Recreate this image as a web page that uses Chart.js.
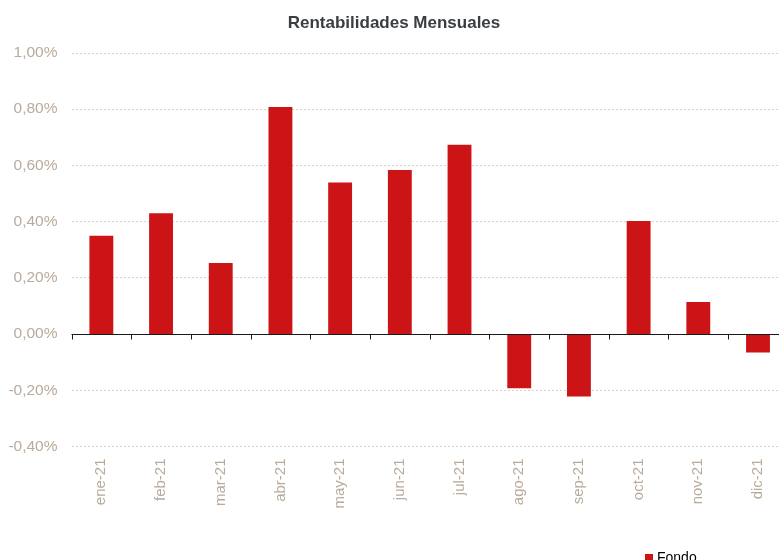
<!DOCTYPE html>
<html>
<head>
<meta charset="utf-8">
<script src="https://cdn.jsdelivr.net/npm/chart.js@4.4.1/dist/chart.umd.min.js"></script>
<style>
  html, body { margin: 0; padding: 0; background: #fff; overflow: hidden; }
  #wrap { position: relative; width: 779px; height: 560px; overflow: hidden; }
  #legend { position: absolute; left: 645px; top: 550px; font: 14px "Liberation Sans", Arial, sans-serif; color: #000; line-height: 14px; white-space: nowrap; }
  #legend span.box { display: inline-block; width: 8px; height: 8px; background: #cc1417; margin-right: 4px; vertical-align: 0px; }
</style>
</head>
<body>
<div id="wrap">
  <canvas id="barChart" width="788" height="575"></canvas>
  <div id="legend"><span class="box"></span>Fondo</div>
</div>
<script>
// datos
const months = ['ene-21', 'feb-21', 'mar-21', 'abr-21', 'may-21', 'jun-21',
                'jul-21', 'ago-21', 'sep-21', 'oct-21', 'nov-21', 'dic-21'];
const fondo = [0.35, 0.43, 0.253, 0.808, 0.539, 0.584, 0.674, -0.193, -0.222, 0.402, 0.114, -0.066];
const yMin = -0.4;
const yMax = 1.0;
const yStep = 0.2;

const labelColor = '#b8ab9c';
const gridColor = '#d9d0c7';

Chart.defaults.font.family = '"Liberation Sans", Arial, sans-serif';

// eje del cero con marcas entre categorias
const zeroAxis = {
  id: 'zeroAxis',
  afterDatasetsDraw(chart) {
    const { ctx, scales: { x, y } } = chart;
    const y0 = Math.round(y.getPixelForValue(0)) + 0.5;
    const step = (x.right - x.left) / months.length;
    ctx.save();
    ctx.strokeStyle = '#1a1a1a';
    ctx.lineWidth = 1;
    ctx.beginPath();
    ctx.moveTo(x.left, y0);
    ctx.lineTo(x.right, y0);
    for (let i = 0; i <= months.length; i++) {
      const px = Math.round(x.left + i * step) + 0.5;
      ctx.moveTo(px, y0);
      ctx.lineTo(px, y0 + 5);
    }
    ctx.stroke();
    ctx.restore();
  }
};

const ctx = document.getElementById('barChart').getContext('2d');
new Chart(ctx, {
  type: 'bar',
  data: {
    labels: months,
    datasets: [{
      label: 'Fondo',
      data: fondo,
      backgroundColor: '#cc1417',
      borderWidth: 0,
      barPercentage: 0.4,
      categoryPercentage: 1.0
    }]
  },
  options: {
    responsive: false,
    animation: false,
    devicePixelRatio: 1,
    layout: { padding: { left: 0, right: 0, top: 0, bottom: 0 } },
    plugins: {
      legend: { display: false },
      tooltip: { enabled: false },
      title: {
        display: true,
        text: 'Rentabilidades Mensuales',
        color: '#3a3e42',
        font: { size: 17, weight: 'bold' },
        padding: { top: 13, bottom: 19.6 }
      }
    },
    scales: {
      x: {
        grid: { display: false, drawTicks: false },
        border: { display: false },
        ticks: {
          color: labelColor,
          font: { size: 15 },
          maxRotation: 90,
          minRotation: 90,
          padding: 12
        },
        afterFit(scale) { scale.height = 128.5; }
      },
      y: {
        min: yMin,
        max: yMax,
        grid: {
          color: gridColor,
          drawTicks: false,
          lineWidth: 1
        },
        border: { display: false, dash: [2, 2] },
        ticks: {
          stepSize: yStep,
          color: labelColor,
          font: { size: 15.5 },
          padding: 14,
          callback: v => (Math.round(v * 100) / 100).toFixed(2).replace('.', ',') + '%'
        },
        afterFit(scale) { scale.width = 71.5; }
      }
    }
  },
  plugins: [zeroAxis]
});
</script>
</body>
</html>
